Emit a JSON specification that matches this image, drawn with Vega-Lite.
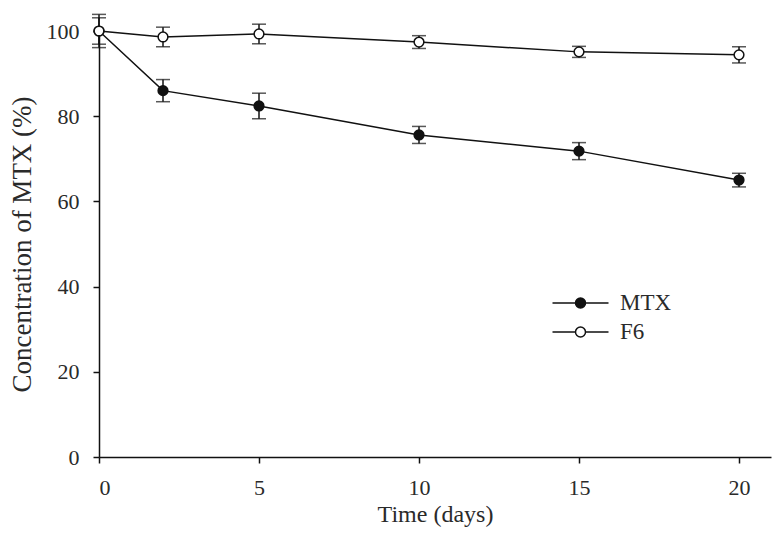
{
  "$schema": "https://vega.github.io/schema/vega-lite/v6.json",
  "width": 672,
  "height": 426,
  "autosize": {"type": "none"},
  "padding": {"left": 99, "top": 31, "right": 7, "bottom": 96},
  "background": "white",
  "config": {
    "view": {"stroke": null},
    "font": "Liberation Serif",
    "axis": {
      "grid": false,
      "domainColor": "#111",
      "domainWidth": 1.5,
      "tickColor": "#111",
      "tickWidth": 1.5,
      "tickSize": 6,
      "labelFont": "Liberation Serif",
      "labelFontSize": 22,
      "labelColor": "#2a2a2a",
      "titleFont": "Liberation Serif",
      "titleFontWeight": "normal",
      "titleColor": "#2a2a2a"
    },
    "legend": {
      "labelFont": "Liberation Serif",
      "labelFontSize": 23,
      "labelColor": "#2a2a2a"
    }
  },
  "data": {
    "values": [
      {"series": "MTX", "day": 0, "conc": 100, "low": 96.1, "high": 103.9},
      {"series": "MTX", "day": 2, "conc": 86.0, "low": 83.4, "high": 88.6},
      {"series": "MTX", "day": 5, "conc": 82.4, "low": 79.4, "high": 85.4},
      {"series": "MTX", "day": 10, "conc": 75.6, "low": 73.6, "high": 77.6},
      {"series": "MTX", "day": 15, "conc": 71.8, "low": 69.8, "high": 73.8},
      {"series": "MTX", "day": 20, "conc": 65.0, "low": 63.4, "high": 66.6},
      {"series": "F6", "day": 0, "conc": 100, "low": 96.9, "high": 103.1},
      {"series": "F6", "day": 2, "conc": 98.6, "low": 96.3, "high": 100.9},
      {"series": "F6", "day": 5, "conc": 99.3, "low": 97.0, "high": 101.6},
      {"series": "F6", "day": 10, "conc": 97.4, "low": 95.9, "high": 98.9},
      {"series": "F6", "day": 15, "conc": 95.1, "low": 93.8, "high": 96.4},
      {"series": "F6", "day": 20, "conc": 94.4, "low": 92.5, "high": 96.3}
    ]
  },
  "encoding": {
    "x": {
      "field": "day",
      "type": "quantitative",
      "scale": {"domain": [0, 21], "nice": false},
      "axis": {"values": [0, 5, 10, 15, 20], "title": "Time (days)", "labelPadding": 14, "titlePadding": 4, "titleFontSize": 24}
    }
  },
  "layer": [
    {
      "mark": {"type": "line", "color": "#111", "strokeWidth": 1.5},
      "encoding": {
        "y": {
          "field": "conc",
          "type": "quantitative",
          "scale": {"domain": [0, 100], "nice": false},
          "axis": {"values": [0, 20, 40, 60, 80, 100], "title": "Concentration of MTX (%)", "labelPadding": 14, "titlePadding": 10, "titleFontSize": 27}
        },
        "detail": {"field": "series"}
      }
    },
    {
      "mark": {"type": "rule", "color": "#111", "strokeWidth": 1.5},
      "encoding": {
        "y": {"field": "low", "type": "quantitative"},
        "y2": {"field": "high"}
      }
    },
    {
      "mark": {"type": "tick", "orient": "horizontal", "color": "#111", "size": 14, "thickness": 1.5},
      "encoding": {"y": {"field": "low", "type": "quantitative"}}
    },
    {
      "mark": {"type": "tick", "orient": "horizontal", "color": "#111", "size": 14, "thickness": 1.5},
      "encoding": {"y": {"field": "high", "type": "quantitative"}}
    },
    {
      "mark": {"type": "point", "shape": "circle", "filled": true, "size": 95, "stroke": "#111", "strokeWidth": 1.5, "opacity": 1},
      "encoding": {
        "y": {"field": "conc", "type": "quantitative"},
        "fill": {
          "field": "series",
          "type": "nominal",
          "scale": {"domain": ["MTX", "F6"], "range": ["#111", "white"]},
          "legend": {
            "title": null,
            "orient": "none",
            "legendX": 470,
            "legendY": 260.5,
            "padding": 0,
            "symbolType": "M-5.6,0L-1,0M1,0L5.6,0M-1,0A1,1 0 1,1 1,0A1,1 0 1,1 -1,0Z",
            "symbolSize": 100,
            "symbolStrokeColor": "#111",
            "symbolStrokeWidth": 1.5,
            "symbolOpacity": 1,
            "labelOffset": 28,
            "rowPadding": 5
          }
        }
      }
    }
  ]
}
